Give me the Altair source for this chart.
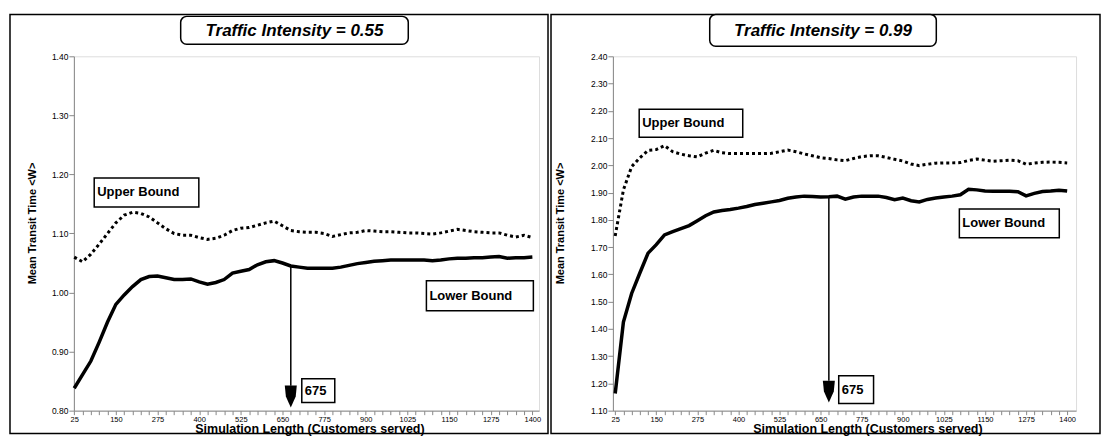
import altair as alt
import pandas as pd

FONT = "Liberation Sans"

# ---------------- data ----------------
customers = [25, 50, 75, 100, 125, 150, 175, 200, 225, 250, 275, 300, 325, 350, 375, 400,
             425, 450, 475, 500, 525, 550, 575, 600, 625, 650, 675, 700, 725, 750, 775, 800,
             825, 850, 875, 900, 925, 950, 975, 1000, 1025, 1050, 1075, 1100, 1125, 1150, 1175, 1200,
             1225, 1250, 1275, 1300, 1325, 1350, 1375, 1400]

upper_055 = [1.060, 1.052, 1.065, 1.082, 1.100, 1.118, 1.131, 1.136,
             1.134, 1.128, 1.118, 1.108, 1.100, 1.097, 1.097, 1.093,
             1.090, 1.092, 1.097, 1.105, 1.109, 1.110, 1.114, 1.118,
             1.121, 1.113, 1.105, 1.103, 1.102, 1.102, 1.100, 1.095,
             1.098, 1.101, 1.102, 1.105, 1.104, 1.103, 1.103, 1.102,
             1.101, 1.101, 1.100, 1.099, 1.101, 1.104, 1.107, 1.105,
             1.103, 1.102, 1.101, 1.101, 1.097, 1.094, 1.097, 1.093]

lower_055 = [0.838, 0.861, 0.884, 0.916, 0.950, 0.980, 0.996, 1.010,
             1.022, 1.027, 1.028, 1.025, 1.022, 1.022, 1.023, 1.018,
             1.014, 1.017, 1.022, 1.033, 1.036, 1.039, 1.047, 1.052,
             1.054, 1.050, 1.045, 1.043, 1.041, 1.041, 1.041, 1.041,
             1.043, 1.046, 1.049, 1.051, 1.053, 1.054, 1.055, 1.055,
             1.055, 1.055, 1.055, 1.054, 1.055, 1.057, 1.058, 1.058,
             1.059, 1.059, 1.060, 1.061, 1.058, 1.059, 1.059, 1.060]

upper_099 = [1.741, 1.910, 1.995, 2.028, 2.055, 2.058, 2.072, 2.050,
             2.041, 2.035, 2.031, 2.045, 2.055, 2.046, 2.043, 2.043,
             2.043, 2.043, 2.043, 2.044, 2.050, 2.056, 2.050, 2.042,
             2.035, 2.028, 2.025, 2.020, 2.017, 2.025, 2.032, 2.035,
             2.035, 2.029, 2.022, 2.016, 2.005, 1.999, 2.004, 2.008,
             2.009, 2.009, 2.010, 2.018, 2.023, 2.019, 2.015, 2.017,
             2.019, 2.017, 2.004, 2.008, 2.011, 2.012, 2.011, 2.009]

lower_099 = [1.163, 1.425, 1.530, 1.605, 1.678, 1.709, 1.745, 1.757,
             1.768, 1.779, 1.797, 1.815, 1.829, 1.834, 1.838, 1.843,
             1.849, 1.856, 1.861, 1.866, 1.871, 1.879, 1.884, 1.887,
             1.886, 1.884, 1.885, 1.887, 1.876, 1.884, 1.887, 1.887,
             1.887, 1.882, 1.874, 1.880, 1.870, 1.866, 1.875, 1.880,
             1.884, 1.887, 1.892, 1.912, 1.910, 1.906, 1.905, 1.905,
             1.905, 1.903, 1.888, 1.897, 1.904, 1.906, 1.909, 1.906]

x_labels = [25, 150, 275, 400, 525, 650, 775, 900, 1025, 1150, 1275, 1400]
y_ticks_055 = [0.80, 0.90, 1.00, 1.10, 1.20, 1.30, 1.40]
y_ticks_099 = [1.10, 1.20, 1.30, 1.40, 1.50, 1.60, 1.70, 1.80, 1.90, 2.00, 2.10, 2.20, 2.30, 2.40]
marked_length = 675

one = pd.DataFrame({"k": [0]})
PW, PH = 466, 355
ARROW_PATH = "M-0.55,-1L0.55,-1L0.45,0L0,1L-0.45,0Z"


def panel(title, upper, lower, x_dom, y_dom, y_ticks, width, boxes, arrow,
          frame, tbox, ytitle_x, xtitle_x):
    df = pd.DataFrame({"x": customers, "upper": upper, "lower": lower})
    xs = alt.Scale(domain=x_dom, nice=False, zero=False)
    ys = alt.Scale(domain=y_dom, nice=False, zero=False)
    label_expr = ("indexof([" + ",".join(str(v) for v in x_labels)
                  + "], datum.value) >= 0 ? datum.value : ''")
    xaxis = alt.Axis(values=customers, labelExpr=label_expr, labelOverlap=False,
                     labelFlush=False, tickSize=4, labelFontSize=7.5, labelPadding=1,
                     grid=False,
                     title="Simulation Length (Customers served)", titleX=xtitle_x,
                     titleY=18, titleBaseline="middle", titleAlign="center",
                     titleFontSize=12.5)
    yaxis = alt.Axis(values=y_ticks, format=".2f", tickSize=5, labelFontSize=8.5,
                     labelPadding=1, labelOverlap=False, labelFlush=False, grid=False,
                     title="Mean Transit Time <W>", titleAngle=270, titleX=ytitle_x,
                     titleY=167, titleBaseline="middle", titleAlign="center",
                     titleFontSize=11)

    base = alt.Chart(df)
    up = base.mark_line(color="black", strokeWidth=3, strokeDash=[3, 3]).encode(
        x=alt.X("x:Q", scale=xs, axis=xaxis),
        y=alt.Y("upper:Q", scale=ys, axis=yaxis))
    lo = base.mark_line(color="black", strokeWidth=3.5).encode(
        x=alt.X("x:Q", scale=xs, axis=xaxis),
        y=alt.Y("lower:Q", scale=ys, axis=yaxis))

    # annotation boxes
    bdf = pd.DataFrame(boxes, columns=["label", "x1", "x2", "y1", "y2"])
    bdf["ym"] = (bdf["y1"] + bdf["y2"]) / 2
    brect = alt.Chart(bdf).mark_rect(fill="white", stroke="black", strokeWidth=1.5).encode(
        x=alt.X("x1:Q", scale=xs, axis=xaxis), x2="x2:Q",
        y=alt.Y("y1:Q", scale=ys, axis=yaxis), y2="y2:Q")
    btext = alt.Chart(bdf).mark_text(align="left", baseline="middle", dx=3, font=FONT,
                                      fontWeight="bold", fontSize=13, color="black").encode(
        x=alt.X("x1:Q", scale=xs, axis=xaxis),
        y=alt.Y("ym:Q", scale=ys, axis=yaxis), text="label:N")

    # arrow at marked length
    lower_at = lower[customers.index(marked_length)]
    adf = pd.DataFrame({"x": [marked_length], "ytop": [lower_at],
                        "ybot": [arrow[0]], "yhead": [arrow[1]]})
    arule = alt.Chart(adf).mark_rule(color="black", strokeWidth=1.5).encode(
        x=alt.X("x:Q", scale=xs, axis=xaxis),
        y=alt.Y("ytop:Q", scale=ys, axis=yaxis), y2="ybot:Q")
    ahead = alt.Chart(adf).mark_point(shape=ARROW_PATH, filled=True, color="black",
                                      opacity=1, size=480).encode(
        x=alt.X("x:Q", scale=xs, axis=xaxis),
        y=alt.Y("yhead:Q", scale=ys, axis=yaxis))

    # outer frame and title box (decoration)
    fr = alt.Chart(one).mark_rect(fillOpacity=0, stroke="black", strokeWidth=1.5).encode(
        x=alt.value(frame[0]), x2=alt.value(frame[1]),
        y=alt.value(frame[2]), y2=alt.value(frame[3]))
    tb = alt.Chart(one).mark_rect(fill="white", stroke="black", strokeWidth=1.5,
                                  cornerRadius=6).encode(
        x=alt.value(tbox[0]), x2=alt.value(tbox[1]),
        y=alt.value(tbox[2]), y2=alt.value(tbox[3]))
    tt = alt.Chart(one).mark_text(font=FONT, fontStyle="italic", fontWeight="bold",
                                  fontSize=17, align="center", baseline="middle",
                                  color="black").encode(
        x=alt.value((tbox[0] + tbox[1]) / 2), y=alt.value((tbox[2] + tbox[3]) / 2 + 1),
        text=alt.value(title))

    return alt.layer(fr, tb, tt, up, lo, arule, ahead, brect, btext).properties(
        width=width, height=PH)


left = panel(
    "Traffic Intensity = 0.55", upper_055, lower_055,
    [24, 1420], [0.80, 1.40], y_ticks_055, PW,
    [("Upper Bound", 85, 399, 1.194, 1.145),
     ("Lower Bound", 1082, 1403, 1.020, 0.969),
     ("675", 708, 807, 0.854, 0.814)],
    (0.842, 0.824),
    (-64, 475, -42, 378), (107, 335, -40, -12), -41, 236)

right = panel(
    "Traffic Intensity = 0.99", upper_099, lower_099,
    [18, 1427], [1.10, 2.40], y_ticks_099, 464,
    [("Upper Bound", 98, 413, 2.206, 2.103),
     ("Lower Bound", 1072, 1376, 1.840, 1.734),
     ("675", 705, 811, 1.228, 1.126)],
    (1.210, 1.170),
    (-62, 488, -42, 378), (97, 324, -42, -10), -52, 255)

chart = alt.hconcat(left, right, spacing=74, bounds="flush").properties(
    padding={"left": 0, "top": 4, "right": 0, "bottom": 0}
).configure_view(
    stroke="black", strokeWidth=1.5
).configure_axis(
    domainColor="black", domainWidth=2.5, tickColor="black", tickWidth=1.5,
    labelColor="black", titleColor="black", labelFont=FONT, titleFont=FONT,
    labelFontWeight="bold", titleFontWeight="bold", grid=False
).configure(background="white")

chart.save("out.html", embed_options={"renderer": "svg", "actions": False})
